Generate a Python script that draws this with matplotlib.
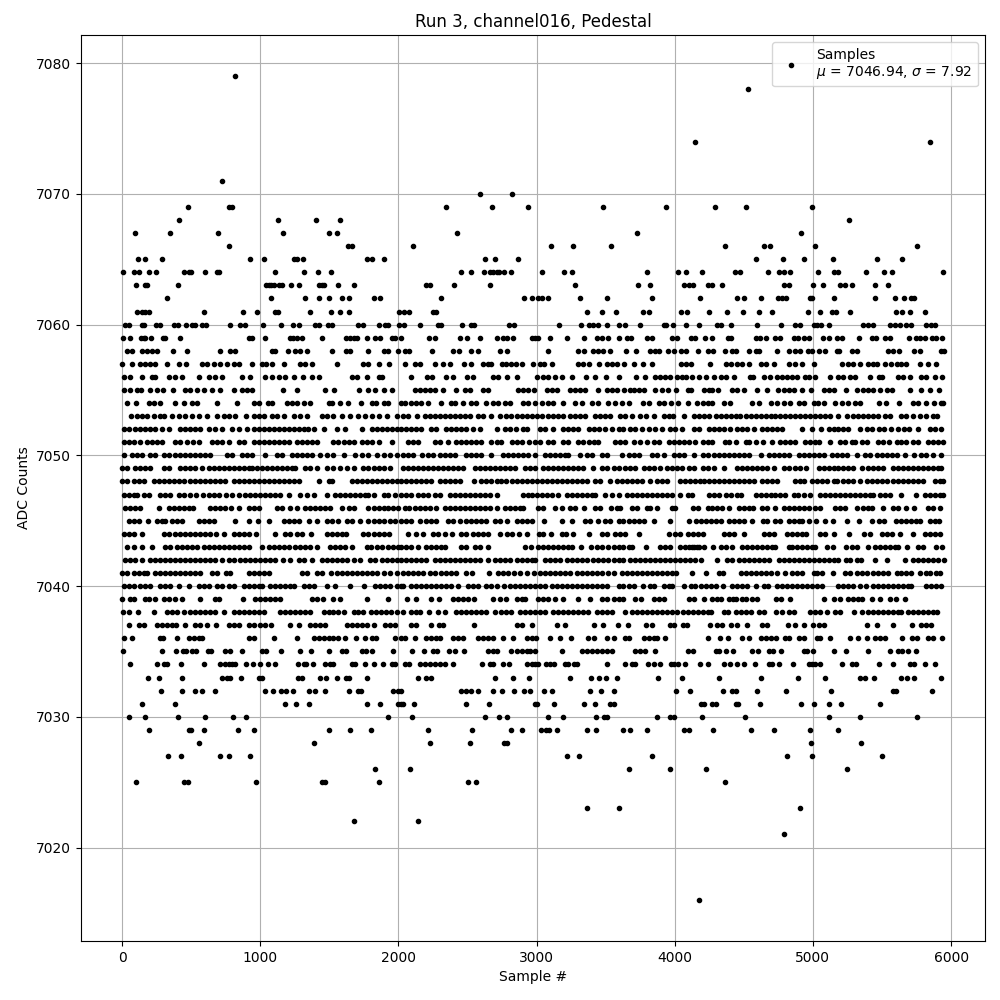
import matplotlib
matplotlib.use("Agg")
import matplotlib.pyplot as plt

# sample numbers, one list per ADC level
x_7079 = [820]
x_7078 = [4530]
x_7074 = [4150, 5850]
x_7071 = [725]
x_7070 = [2591, 2823]
x_7069 = [475, 775, 795, 2344, 2678, 2940, 3484, 3939, 4292, 4515, 4990]
x_7068 = [410, 1125, 1400, 1574, 5264]
x_7067 = [92, 345, 692, 1162, 1494, 1552, 2424, 3724, 4911]
x_7066 = [771, 1632, 1663, 2105, 3106, 3266, 3542, 4364, 4645, 4688, 5012, 5754]
x_7065 = [113, 164, 287, 923, 1024, 1241, 1265, 1306, 1774, 1812, 1892, 2627, 2702, 2867, 4587, 4782, 4933, 5142, 5466, 5646]
x_7064 = [5, 84, 120, 193, 243, 446, 482, 499, 598, 687, 701, 1104, 1313, 1415, 1509, 2453, 2526, 2620, 2661, 2685, 2710, 2729, 2765, 2816, 3041, 3201, 3259, 3796, 4021, 4083, 4198, 4436, 4472, 4674, 4753, 4789, 4832, 5034, 5154, 5185, 5386, 5516, 5574, 5941]
x_7063 = [101, 169, 181, 402, 1041, 1060, 1080, 1097, 1133, 1157, 1219, 1277, 1422, 1446, 1463, 1566, 1675, 2201, 2230, 2402, 2664, 3281, 3731, 3818, 4069, 4105, 4129, 4237, 4266, 4342, 4789, 4825, 4998, 5070, 5197, 5233, 5286, 5451, 5545]
x_7062 = [323, 1075, 1321, 1422, 1501, 1595, 1639, 1820, 1870, 2308, 2910, 2969, 3012, 3036, 3085, 3317, 3513, 3832, 4184, 4448, 4501, 4623, 4746, 4777, 4806, 4976, 4993, 5149, 5451, 5595, 5660, 5708, 5732]
x_7061 = [108, 145, 169, 193, 590, 875, 974, 1109, 1128, 1357, 1509, 1574, 1639, 2005, 2037, 2076, 2250, 2274, 3368, 3477, 3578, 3767, 3811, 4045, 4088, 4249, 4378, 4494, 4609, 4702, 4962, 5048, 5137, 5168, 5271, 5602, 5646, 5703, 5811]
x_7060 = [24, 48, 145, 161, 243, 272, 374, 402, 460, 506, 530, 578, 610, 778, 856, 887, 1017, 1147, 1234, 1277, 1398, 1422, 1487, 1518, 1711, 1747, 1863, 1904, 1923, 2005, 2037, 2158, 2286, 2310, 2460, 2528, 2547, 2802, 2838, 3165, 3324, 3382, 3411, 3448, 3506, 3593, 3641, 3750, 3920, 3937, 3985, 4083, 4177, 4309, 4338, 4407, 4594, 4767, 4868, 4904, 5005, 5029, 5058, 5113, 5365, 5396, 5432, 5557, 5593, 5629, 5677, 5713, 5821, 5852, 5886]
x_7059 = [5, 55, 137, 157, 169, 207, 294, 313, 417, 916, 940, 1031, 1212, 1236, 1265, 1301, 1446, 1622, 1651, 1675, 1699, 1776, 1827, 1870, 1952, 1976, 2020, 2221, 2262, 2446, 2499, 2591, 2710, 2758, 2787, 2826, 2964, 2988, 3012, 3099, 3223, 3344, 3440, 3472, 3520, 3600, 3653, 3682, 3799, 3835, 3980, 4016, 4117, 4146, 4218, 4266, 4386, 4410, 4585, 4616, 4662, 4729, 4765, 4861, 4890, 4938, 4969, 5072, 5113, 5173, 5209, 5334, 5425, 5454, 5521, 5557, 5696, 5749, 5773, 5814, 5862, 5888, 5934]
x_7058 = [36, 72, 145, 181, 217, 253, 366, 470, 706, 778, 819, 1085, 1109, 1200, 1253, 1289, 1338, 1518, 1622, 1651, 1783, 1892, 1928, 2000, 2044, 2080, 2242, 2395, 2439, 2528, 2576, 2736, 2787, 3085, 3302, 3346, 3411, 3448, 3484, 3528, 3644, 3716, 3823, 3859, 3883, 3949, 3992, 4045, 4081, 4165, 4242, 4278, 4364, 4417, 4446, 4537, 4585, 4609, 4738, 4825, 4873, 4909, 4962, 4993, 5041, 5084, 5173, 5192, 5281, 5317, 5545, 5581, 5622, 5732, 5778, 5929, 5946]
x_7057 = [0, 72, 133, 169, 205, 241, 325, 410, 465, 578, 615, 663, 711, 759, 807, 843, 940, 1012, 1041, 1085, 1169, 1289, 1325, 1373, 1559, 1747, 1783, 1856, 1933, 2044, 2117, 2153, 2262, 2322, 2373, 2475, 2528, 2613, 2649, 2673, 2747, 2782, 2818, 2850, 2891, 2976, 3024, 3056, 3109, 3302, 3339, 3382, 3455, 3513, 3545, 3581, 3634, 3702, 3769, 3835, 4045, 4081, 4117, 4256, 4369, 4405, 4448, 4489, 4537, 4621, 4657, 4717, 4825, 4873, 4921, 5005, 5214, 5257, 5288, 5341, 5401, 5437, 5466, 5521, 5562, 5605, 5641, 5672, 5778, 5833, 5893]
x_7056 = [12, 60, 145, 217, 241, 342, 386, 434, 559, 627, 675, 723, 868, 923, 1036, 1085, 1133, 1181, 1241, 1306, 1373, 1422, 1663, 1699, 1771, 1856, 1880, 2092, 2205, 2242, 2346, 2395, 2499, 2540, 2685, 2722, 2787, 2855, 3005, 3048, 3085, 3133, 3182, 3254, 3358, 3426, 3499, 3593, 3716, 3782, 3854, 3895, 3932, 3968, 4016, 4053, 4081, 4122, 4177, 4225, 4285, 4338, 4369, 4429, 4544, 4568, 4645, 4688, 4741, 4777, 4813, 4849, 4885, 4945, 4969, 5017, 5120, 5185, 5221, 5269, 5305, 5415, 5478, 5502, 5617, 5653, 5701, 5785, 5816, 5881, 5934]
x_7055 = [12, 60, 108, 137, 205, 253, 296, 366, 458, 494, 542, 590, 651, 711, 812, 868, 904, 940, 1162, 1263, 1470, 1535, 1718, 1783, 1832, 1892, 1957, 2117, 2153, 2190, 2226, 2262, 2322, 2417, 2480, 2516, 2613, 2649, 2867, 2903, 2940, 2983, 3073, 3109, 3145, 3242, 3278, 3315, 3351, 3448, 3508, 3545, 3581, 3634, 3673, 3702, 3738, 3774, 3859, 3908, 3949, 4007, 4093, 4117, 4213, 4249, 4273, 4314, 4417, 4453, 4501, 4592, 4664, 4746, 4789, 4825, 4861, 4918, 4986, 5077, 5113, 5149, 5238, 5317, 5365, 5401, 5437, 5487, 5538, 5569, 5701, 5785, 5845, 5912]
x_7054 = [36, 101, 193, 229, 272, 386, 446, 506, 542, 684, 829, 952, 988, 1053, 1085, 1193, 1229, 1265, 1313, 1362, 1494, 1518, 1579, 1632, 1728, 1808, 1839, 1892, 1928, 2020, 2044, 2092, 2129, 2165, 2214, 2308, 2383, 2407, 2468, 2528, 2564, 2637, 2685, 2722, 2770, 2806, 2903, 2940, 2988, 3036, 3085, 3121, 3194, 3278, 3327, 3399, 3448, 3520, 3569, 3617, 3666, 3767, 3811, 3883, 3920, 3973, 4021, 4098, 4158, 4201, 4237, 4273, 4357, 4400, 4561, 4609, 4693, 4741, 4789, 4837, 4897, 4933, 5005, 5034, 5077, 5161, 5209, 5257, 5305, 5341, 5478, 5528, 5622, 5725, 5761, 5821, 5876, 5929, 5945]
x_7053 = [65, 108, 145, 181, 229, 277, 301, 361, 410, 458, 506, 554, 615, 684, 735, 771, 819, 894, 952, 988, 1024, 1085, 1121, 1169, 1241, 1289, 1338, 1446, 1482, 1530, 1591, 1651, 1711, 1759, 1808, 1856, 1916, 1988, 2032, 2068, 2134, 2190, 2226, 2262, 2298, 2335, 2371, 2407, 2443, 2480, 2516, 2576, 2613, 2673, 2734, 2782, 2818, 2855, 2891, 2927, 2964, 3000, 3036, 3085, 3116, 3157, 3194, 3242, 3278, 3315, 3351, 3423, 3460, 3496, 3532, 3605, 3641, 3690, 3750, 3794, 3847, 3920, 3956, 3987, 4069, 4141, 4177, 4213, 4249, 4297, 4333, 4369, 4405, 4441, 4472, 4513, 4549, 4585, 4621, 4657, 4693, 4729, 4765, 4801, 4837, 4873, 4909, 4945, 4981, 5017, 5053, 5089, 5125, 5185, 5245, 5293, 5329, 5365, 5401, 5437, 5473, 5521, 5557, 5641, 5677, 5725, 5773, 5821, 5869, 5898]
x_7052 = [12, 48, 96, 133, 169, 205, 241, 289, 337, 422, 458, 494, 530, 566, 627, 675, 723, 795, 843, 904, 952, 988, 1024, 1060, 1097, 1133, 1169, 1205, 1241, 1277, 1313, 1349, 1386, 1458, 1554, 1615, 1735, 1808, 1844, 1880, 1916, 1952, 1988, 2020, 2056, 2092, 2129, 2165, 2238, 2274, 2347, 2383, 2419, 2456, 2489, 2540, 2589, 2714, 2770, 2806, 2848, 2903, 2927, 3024, 3061, 3121, 3194, 3230, 3266, 3303, 3382, 3419, 3455, 3496, 3545, 3593, 3629, 3678, 3714, 3762, 3811, 3859, 3908, 3969, 4004, 4053, 4137, 4174, 4249, 4285, 4321, 4357, 4400, 4453, 4489, 4525, 4573, 4633, 4669, 4705, 4741, 4777, 4921, 4995, 5055, 5113, 5149, 5185, 5221, 5257, 5343, 5389, 5425, 5480, 5514, 5562, 5617, 5658, 5696, 5761, 5845, 5881, 5929]
x_7051 = [12, 48, 84, 133, 181, 217, 253, 289, 386, 422, 470, 513, 554, 651, 687, 723, 771, 843, 880, 952, 988, 1024, 1060, 1097, 1133, 1169, 1205, 1265, 1301, 1338, 1374, 1410, 1530, 1566, 1603, 1639, 1675, 1735, 1771, 1808, 1858, 1957, 2068, 2104, 2141, 2262, 2298, 2359, 2419, 2456, 2492, 2528, 2564, 2601, 2673, 2710, 2746, 2819, 2855, 2891, 2947, 2988, 3024, 3085, 3121, 3194, 3230, 3303, 3339, 3376, 3412, 3448, 3569, 3605, 3641, 3702, 3750, 3799, 3847, 3883, 3956, 3992, 4029, 4065, 4101, 4150, 4201, 4237, 4273, 4364, 4393, 4441, 4513, 4537, 4585, 4637, 4705, 4765, 4801, 4837, 4873, 4945, 4981, 5017, 5041, 5125, 5197, 5233, 5281, 5305, 5353, 5389, 5473, 5509, 5552, 5605, 5641, 5677, 5725, 5761, 5833, 5869, 5905, 5941]
x_7050 = [12, 72, 108, 145, 205, 241, 301, 337, 386, 422, 458, 494, 530, 566, 603, 639, 759, 795, 868, 904, 940, 1031, 1121, 1157, 1229, 1265, 1301, 1338, 1374, 1434, 1482, 1530, 1603, 1687, 1735, 1783, 1844, 1892, 1940, 1988, 2032, 2068, 2104, 2172, 2214, 2250, 2298, 2335, 2371, 2407, 2492, 2528, 2564, 2601, 2673, 2758, 2794, 2830, 2867, 2903, 2940, 2988, 3061, 3097, 3133, 3169, 3206, 3230, 3317, 3363, 3399, 3472, 3508, 3617, 3666, 3702, 3738, 3835, 3871, 3920, 3992, 4029, 4065, 4137, 4201, 4237, 4285, 4321, 4357, 4393, 4429, 4465, 4501, 4537, 4621, 4681, 4717, 4753, 4789, 4825, 4897, 4933, 4969, 5005, 5041, 5077, 5137, 5173, 5209, 5245, 5317, 5377, 5413, 5461, 5497, 5533, 5569, 5605, 5665, 5732, 5785, 5816, 5869, 5924]
x_7049 = [0, 36, 96, 133, 169, 205, 301, 337, 422, 458, 494, 530, 578, 627, 663, 699, 735, 771, 807, 843, 880, 916, 940, 976, 1012, 1048, 1085, 1121, 1157, 1193, 1229, 1253, 1325, 1362, 1410, 1482, 1530, 1579, 1627, 1675, 1747, 1783, 1820, 1856, 1892, 1940, 2032, 2068, 2104, 2141, 2177, 2214, 2250, 2286, 2322, 2359, 2395, 2431, 2468, 2552, 2589, 2625, 2661, 2698, 2734, 2770, 2806, 2843, 2915, 2952, 2988, 3048, 3085, 3121, 3157, 3194, 3230, 3266, 3303, 3334, 3407, 3472, 3508, 3557, 3593, 3641, 3678, 3714, 3774, 3811, 3847, 3895, 3944, 3980, 4016, 4053, 4105, 4141, 4201, 4237, 4285, 4357, 4453, 4489, 4525, 4561, 4597, 4633, 4669, 4717, 4789, 4825, 4873, 4909, 4952, 5041, 5077, 5113, 5149, 5185, 5221, 5257, 5293, 5353, 5401, 5437, 5473, 5509, 5581, 5617, 5653, 5689, 5725, 5761, 5797, 5833, 5869, 5905, 5929]
x_7048 = [0, 36, 84, 120, 157, 229, 265, 301, 337, 374, 410, 446, 494, 530, 566, 603, 639, 675, 711, 747, 807, 843, 880, 916, 952, 988, 1024, 1060, 1097, 1133, 1169, 1205, 1241, 1277, 1422, 1494, 1518, 1663, 1699, 1735, 1771, 1808, 1844, 1880, 1916, 1952, 1988, 2020, 2056, 2092, 2129, 2165, 2201, 2238, 2298, 2335, 2371, 2407, 2443, 2547, 2601, 2637, 2673, 2710, 2746, 2782, 2819, 2855, 2891, 2927, 2964, 3000, 3036, 3073, 3109, 3145, 3182, 3218, 3254, 3290, 3327, 3363, 3423, 3460, 3528, 3581, 3617, 3653, 3690, 3726, 3762, 3823, 3871, 3908, 3944, 4041, 4077, 4113, 4150, 4186, 4213, 4249, 4285, 4321, 4357, 4393, 4429, 4465, 4501, 4537, 4573, 4633, 4669, 4705, 4741, 4873, 4909, 4938, 4993, 5029, 5065, 5101, 5149, 5173, 5221, 5257, 5293, 5341, 5389, 5425, 5461, 5497, 5533, 5581, 5617, 5653, 5689, 5725, 5761, 5797, 5881, 5917, 5945]
x_7047 = [12, 48, 84, 108, 157, 193, 277, 313, 349, 410, 446, 489, 537, 586, 627, 663, 699, 754, 795, 843, 892, 928, 964, 1000, 1036, 1072, 1109, 1145, 1205, 1289, 1338, 1386, 1482, 1542, 1579, 1615, 1651, 1687, 1723, 1759, 1783, 1820, 1892, 1928, 1976, 2020, 2056, 2092, 2141, 2177, 2214, 2262, 2298, 2371, 2407, 2443, 2480, 2516, 2552, 2589, 2625, 2661, 2710, 2903, 2940, 2964, 3000, 3036, 3073, 3109, 3157, 3218, 3254, 3290, 3327, 3363, 3400, 3424, 3496, 3545, 3593, 3653, 3690, 3726, 3762, 3799, 3835, 3871, 3908, 3944, 3980, 4041, 4094, 4122, 4249, 4285, 4321, 4369, 4405, 4453, 4482, 4585, 4621, 4657, 4693, 4729, 4765, 4801, 4861, 4890, 4933, 4981, 5053, 5089, 5125, 5161, 5197, 5233, 5269, 5305, 5341, 5377, 5413, 5437, 5485, 5521, 5557, 5641, 5749, 5809, 5845, 5881, 5917, 5941]
x_7046 = [24, 60, 96, 128, 270, 337, 374, 410, 446, 482, 513, 639, 675, 711, 747, 790, 848, 916, 952, 988, 1121, 1157, 1217, 1265, 1325, 1362, 1398, 1434, 1470, 1506, 1591, 1639, 1675, 1783, 1820, 1856, 1892, 1928, 1964, 2000, 2044, 2080, 2117, 2153, 2190, 2226, 2269, 2334, 2371, 2407, 2443, 2480, 2516, 2552, 2589, 2625, 2661, 2710, 2770, 2806, 2843, 2879, 2903, 3012, 3048, 3133, 3186, 3242, 3278, 3344, 3424, 3460, 3537, 3581, 3605, 3690, 3726, 3799, 3823, 3873, 3980, 4004, 4129, 4165, 4237, 4273, 4309, 4345, 4393, 4465, 4501, 4537, 4568, 4633, 4669, 4724, 4789, 4825, 4861, 4897, 4938, 4969, 5017, 5048, 5161, 5197, 5233, 5322, 5365, 5401, 5425, 5509, 5581, 5617, 5677, 5732, 5833, 5869, 5917]
x_7045 = [48, 84, 120, 188, 253, 289, 313, 361, 398, 434, 554, 591, 627, 663, 819, 916, 981, 1065, 1169, 1205, 1241, 1277, 1350, 1410, 1482, 1518, 1562, 1627, 1663, 1723, 1783, 1820, 1856, 1892, 1940, 1976, 2020, 2056, 2092, 2153, 2201, 2238, 2274, 2359, 2395, 2443, 2492, 2528, 2564, 2601, 2637, 2698, 2734, 2787, 2855, 2891, 2927, 2964, 3053, 3186, 3259, 3351, 3387, 3448, 3496, 3532, 3600, 3629, 3666, 3702, 3738, 3774, 3847, 3963, 4101, 4153, 4189, 4225, 4261, 4297, 4333, 4393, 4429, 4465, 4501, 4558, 4640, 4669, 4724, 4760, 4825, 4861, 4897, 4921, 4969, 5022, 5089, 5144, 5245, 5336, 5430, 5478, 5516, 5600, 5636, 5672, 5708, 5744, 5773, 5845, 5881, 5912]
x_7044 = [12, 48, 84, 145, 301, 337, 386, 422, 458, 489, 530, 566, 603, 639, 682, 740, 807, 843, 880, 916, 969, 1109, 1181, 1217, 1265, 1301, 1366, 1482, 1518, 1554, 1591, 1622, 1747, 1783, 1820, 1856, 1892, 1935, 2068, 2129, 2177, 2250, 2286, 2335, 2388, 2456, 2492, 2540, 2577, 2613, 2649, 2734, 2787, 2823, 2874, 2927, 3019, 3048, 3102, 3182, 3211, 3266, 3382, 3472, 3508, 3569, 3605, 3641, 3738, 3956, 4004, 4041, 4093, 4129, 4165, 4206, 4357, 4393, 4429, 4501, 4645, 4681, 4717, 4813, 4849, 4885, 4921, 4952, 5053, 5089, 5149, 5264, 5370, 5413, 5497, 5533, 5574, 5629, 5725, 5814, 5845, 5881, 5917]
x_7043 = [36, 84, 145, 217, 313, 349, 398, 434, 470, 506, 542, 590, 627, 663, 699, 735, 771, 807, 843, 880, 916, 1012, 1060, 1097, 1133, 1169, 1205, 1253, 1289, 1325, 1362, 1410, 1506, 1542, 1579, 1615, 1663, 1771, 1800, 1848, 1880, 1928, 1964, 2000, 2020, 2056, 2092, 2141, 2201, 2238, 2274, 2310, 2334, 2456, 2492, 2552, 2589, 2649, 2915, 2956, 3012, 3048, 3085, 3121, 3157, 3194, 3230, 3254, 3322, 3392, 3436, 3472, 3520, 3557, 3593, 3629, 3666, 3690, 3791, 3891, 3932, 3968, 4041, 4077, 4125, 4162, 4105, 4141, 4177, 4213, 4278, 4338, 4369, 4417, 4489, 4525, 4561, 4597, 4633, 4669, 4705, 4729, 4825, 4849, 4885, 4921, 4957, 4993, 5017, 5101, 5142, 5238, 5281, 5317, 5396, 5449, 5485, 5521, 5557, 5593, 5617, 5684, 5761, 5797, 5888, 5936]
x_7042 = [24, 60, 96, 145, 205, 241, 277, 313, 349, 386, 422, 458, 494, 530, 566, 603, 639, 675, 723, 771, 807, 855, 892, 928, 964, 1000, 1036, 1072, 1109, 1164, 1212, 1277, 1313, 1374, 1446, 1482, 1518, 1554, 1591, 1627, 1675, 1723, 1795, 1832, 1880, 1916, 1952, 1988, 2020, 2056, 2092, 2129, 2165, 2201, 2262, 2298, 2335, 2371, 2407, 2443, 2480, 2516, 2552, 2589, 2649, 2698, 2734, 2770, 2806, 2855, 2891, 2927, 2964, 2988, 3061, 3097, 3133, 3169, 3218, 3254, 3290, 3327, 3363, 3411, 3448, 3484, 3520, 3557, 3593, 3629, 3678, 3714, 3750, 3787, 3823, 3859, 3895, 3932, 3968, 4004, 4041, 4077, 4113, 4150, 4189, 4309, 4381, 4417, 4465, 4501, 4537, 4573, 4609, 4645, 4681, 4753, 4789, 4825, 4861, 4897, 4933, 4969, 5005, 5041, 5077, 5113, 5149, 5185, 5240, 5269, 5317, 5348, 5449, 5535, 5665, 5725, 5761, 5797, 5833, 5869, 5905, 5948]
x_7041 = [0, 36, 84, 120, 157, 181, 241, 277, 313, 349, 386, 422, 458, 494, 530, 566, 651, 687, 754, 783, 916, 952, 988, 1024, 1060, 1301, 1338, 1410, 1446, 1509, 1554, 1591, 1627, 1663, 1699, 1735, 1771, 1808, 1844, 1892, 1940, 1988, 2032, 2068, 2104, 2141, 2177, 2226, 2262, 2310, 2346, 2383, 2419, 2489, 2533, 2656, 2722, 2758, 2794, 2838, 2879, 2932, 2983, 3024, 3061, 3097, 3133, 3169, 3206, 3242, 3290, 3327, 3363, 3400, 3436, 3472, 3520, 3557, 3617, 3653, 3690, 3726, 3762, 3799, 3835, 3871, 3908, 3944, 3980, 4012, 4124, 4227, 4321, 4352, 4477, 4513, 4549, 4585, 4621, 4657, 4693, 4741, 4796, 4849, 4885, 4921, 5005, 5029, 5065, 5142, 5233, 5269, 5317, 5353, 5389, 5437, 5473, 5509, 5545, 5605, 5641, 5677, 5713, 5778, 5821, 5850, 5888, 5917]
x_7040 = [12, 48, 84, 128, 169, 205, 272, 313, 349, 410, 487, 554, 591, 627, 687, 723, 771, 807, 880, 916, 952, 988, 1012, 1072, 1109, 1145, 1181, 1217, 1241, 1313, 1350, 1386, 1482, 1542, 1646, 1754, 1832, 1868, 1904, 1940, 1988, 2020, 2032, 2092, 2129, 2165, 2201, 2238, 2274, 2310, 2347, 2383, 2431, 2504, 2540, 2577, 2637, 2673, 2710, 2765, 2806, 2843, 2879, 2915, 2952, 2988, 3024, 3063, 3109, 3145, 3182, 3218, 3254, 3290, 3327, 3363, 3400, 3436, 3472, 3508, 3593, 3629, 3666, 3702, 3769, 3823, 3852, 3920, 3956, 3980, 4065, 4117, 4146, 4189, 4225, 4261, 4297, 4350, 4417, 4453, 4489, 4525, 4587, 4645, 4674, 4741, 4777, 4813, 4849, 4885, 4921, 4957, 4993, 5029, 5065, 5185, 5221, 5257, 5293, 5341, 5382, 5437, 5473, 5509, 5545, 5581, 5617, 5653, 5689, 5713, 5821, 5857, 5893, 5929]
x_7039 = [0, 60, 84, 164, 193, 241, 301, 337, 386, 434, 561, 675, 699, 875, 964, 1000, 1036, 1072, 1109, 1140, 1374, 1410, 1453, 1530, 1574, 1774, 1923, 2061, 2126, 2238, 2293, 2395, 2431, 2468, 2504, 2545, 2685, 2734, 2777, 2855, 2891, 2915, 3012, 3048, 3080, 3133, 3194, 3298, 3390, 3472, 3508, 3557, 3593, 3629, 3714, 3755, 3847, 3883, 3920, 4101, 4136, 4213, 4266, 4309, 4338, 4393, 4424, 4446, 4489, 4518, 4561, 4592, 4736, 4772, 4837, 5079, 5149, 5199, 5257, 5293, 5329, 5353, 5425, 5485, 5557, 5600, 5667]
x_7038 = [7, 48, 116, 229, 325, 361, 398, 446, 494, 530, 566, 603, 639, 675, 735, 807, 843, 880, 916, 952, 988, 1024, 1145, 1181, 1217, 1253, 1289, 1325, 1362, 1458, 1494, 1530, 1566, 1603, 1675, 1711, 1747, 1800, 1836, 1873, 1909, 1945, 1988, 2032, 2092, 2129, 2158, 2221, 2286, 2337, 2419, 2456, 2492, 2528, 2564, 2601, 2637, 2702, 2746, 2782, 2818, 2879, 2915, 2952, 2988, 3024, 3061, 3121, 3157, 3194, 3230, 3266, 3303, 3339, 3375, 3436, 3472, 3508, 3545, 3641, 3690, 3726, 3762, 3799, 3835, 3871, 3908, 3944, 3980, 4016, 4057, 4093, 4129, 4165, 4201, 4237, 4261, 4357, 4386, 4441, 4477, 4513, 4549, 4609, 4645, 4736, 4777, 4825, 4861, 4981, 5017, 5053, 5101, 5161, 5197, 5295, 5358, 5401, 5437, 5473, 5509, 5545, 5581, 5617, 5641, 5689, 5725, 5761, 5797, 5833, 5869, 5898]
x_7037 = [48, 120, 157, 253, 289, 325, 361, 393, 458, 530, 566, 615, 680, 771, 807, 843, 916, 952, 1000, 1036, 1077, 1212, 1284, 1357, 1398, 1434, 1470, 1627, 1663, 1699, 1735, 1771, 1820, 1904, 1940, 1976, 2092, 2129, 2235, 2293, 2322, 2547, 2860, 2891, 2969, 3150, 3208, 3416, 3484, 3586, 3658, 3794, 3837, 3968, 3997, 4057, 4088, 4256, 4309, 4345, 4407, 4450, 4522, 4633, 4664, 4818, 4870, 4933, 4998, 5041, 5077, 5394, 5466, 5581, 5718, 5785, 5821, 5857]
x_7036 = [17, 72, 277, 296, 395, 482, 518, 554, 578, 916, 952, 1097, 1263, 1386, 1422, 1458, 1494, 1530, 1566, 1615, 1692, 1759, 1808, 1836, 1976, 2020, 2051, 2119, 2201, 2238, 2274, 2298, 2395, 2431, 2468, 2577, 2613, 2649, 2685, 2758, 2831, 2927, 2964, 2998, 3099, 3172, 3252, 3375, 3412, 3508, 3557, 3641, 3666, 3774, 3811, 3847, 3871, 3927, 4242, 4328, 4386, 4486, 4537, 4621, 4657, 4693, 4736, 4801, 4825, 4902, 4938, 5029, 5048, 5127, 5271, 5326, 5394, 5449, 5485, 5521, 5646, 5718, 5754, 5833, 5869, 5934]
x_7035 = [5, 287, 388, 439, 465, 506, 537, 619, 643, 747, 783, 865, 1012, 1041, 1147, 1285, 1366, 1501, 1591, 1622, 1735, 1767, 1812, 1964, 2097, 2184, 2250, 2279, 2366, 2410, 2475, 2649, 2685, 2714, 2818, 2855, 2891, 2927, 2952, 2990, 3186, 3332, 3368, 3404, 3440, 3477, 3513, 3545, 3714, 3750, 3782, 3854, 4093, 4129, 4297, 4321, 4374, 4422, 4558, 4602, 4681, 4712, 4767, 4933, 4957, 4998, 5149, 5242, 5401, 5557, 5617, 5648, 5689, 5746]
x_7034 = [55, 251, 301, 325, 424, 590, 706, 747, 771, 795, 819, 894, 945, 995, 1053, 1109, 1270, 1318, 1333, 1379, 1465, 1506, 1530, 1663, 1687, 1759, 1820, 1885, 1952, 1976, 2044, 2080, 2153, 2190, 2226, 2262, 2298, 2335, 2395, 2608, 2661, 2685, 2758, 2802, 2927, 2964, 2988, 3012, 3065, 3097, 3128, 3206, 3230, 3271, 3295, 3513, 3641, 3690, 3714, 3806, 3847, 3891, 3970, 3992, 4021, 4072, 4184, 4242, 4357, 4400, 4448, 4501, 4580, 4681, 4705, 4753, 4854, 4969, 4993, 5017, 5053, 5214, 5281, 5312, 5478, 5581, 5701, 5732, 5809, 5883]
x_7033 = [188, 265, 431, 723, 759, 783, 858, 988, 1012, 1270, 1301, 1434, 1475, 1552, 1618, 1639, 1769, 2141, 2201, 2238, 2702, 2831, 2947, 3244, 3397, 3455, 3499, 3583, 3876, 4050, 4321, 4623, 4890, 5084, 5341, 5377, 5439, 5641, 5682, 5732, 5924]
x_7032 = [282, 431, 525, 576, 670, 1031, 1092, 1147, 1186, 1234, 1350, 1398, 1465, 1639, 1704, 1728, 1964, 2000, 2020, 2456, 2492, 2528, 2576, 2685, 2751, 2838, 2910, 2954, 3056, 3109, 3387, 3469, 3557, 4012, 4108, 4350, 4417, 4441, 4597, 4803, 5134, 5581, 5600, 5862]
x_7031 = [142, 381, 1176, 1256, 1354, 1776, 1870, 2000, 2020, 2032, 2112, 2489, 2656, 2988, 3005, 3128, 3346, 3426, 3528, 3557, 4189, 4213, 4273, 4297, 4441, 4458, 4616, 4911, 5005, 5113, 5206, 5487]
x_7030 = [48, 164, 402, 598, 800, 894, 1921, 2097, 2627, 2729, 2787, 3085, 3194, 3433, 3489, 3513, 3869, 3968, 3992, 4198, 4508, 5113, 5343, 5754]
x_7029 = [193, 482, 499, 590, 836, 952, 1501, 1653, 1798, 2211, 2533, 2816, 2896, 3034, 3065, 3092, 3150, 3368, 3433, 3629, 3673, 3796, 4065, 4101, 4278, 4549, 4717, 4976, 5178]
x_7028 = [554, 1386, 2228, 2518, 2762, 2785, 4983, 5350]
x_7027 = [330, 424, 706, 771, 923, 3223, 3310, 3832, 4810, 4990, 5502]
x_7026 = [1827, 2083, 3666, 3963, 4227, 5250]
x_7025 = [99, 446, 475, 966, 1446, 1470, 1856, 2505, 2560, 4365]
x_7023 = [3365, 3600, 4905]
x_7022 = [1675, 2145]
x_7021 = [4790]
x_7016 = [4175]

adc_levels = [7079, 7078, 7074, 7071, 7070, 7069, 7068, 7067, 7066, 7065, 7064, 7063, 7062, 7061, 7060, 7059, 7058, 7057, 7056, 7055, 7054, 7053, 7052, 7051, 7050, 7049, 7048, 7047, 7046, 7045, 7044, 7043, 7042, 7041, 7040, 7039, 7038, 7037, 7036, 7035, 7034, 7033, 7032, 7031, 7030, 7029, 7028, 7027, 7026, 7025, 7023, 7022, 7021, 7016]
level_samples = [x_7079, x_7078, x_7074, x_7071, x_7070, x_7069, x_7068, x_7067, x_7066, x_7065, x_7064, x_7063, x_7062, x_7061, x_7060, x_7059, x_7058, x_7057, x_7056, x_7055, x_7054, x_7053, x_7052, x_7051, x_7050, x_7049, x_7048, x_7047, x_7046, x_7045, x_7044, x_7043, x_7042, x_7041, x_7040, x_7039, x_7038, x_7037, x_7036, x_7035, x_7034, x_7033, x_7032, x_7031, x_7030, x_7029, x_7028, x_7027, x_7026, x_7025, x_7023, x_7022, x_7021, x_7016]

mu = 7046.94
sigma = 7.92

# flatten the rows into one series
samples = []
counts = []
for level, xs in zip(adc_levels, level_samples):
    samples += xs
    counts += [level] * len(xs)

fig, ax = plt.subplots(figsize=(10, 10))
ax.plot(samples, counts, "k.", label=f"Samples\n$\\mu$ = {mu:.2f}, $\\sigma$ = {sigma:.2f}")
ax.set_title("Run 3, channel016, Pedestal")
ax.set_xlabel("Sample #")
ax.set_ylabel("ADC Counts")
ax.grid(True)
ax.legend(loc="upper right")
fig.subplots_adjust(left=0.081, right=0.985, top=0.965, bottom=0.059)
fig.savefig("out.png", dpi=100)
